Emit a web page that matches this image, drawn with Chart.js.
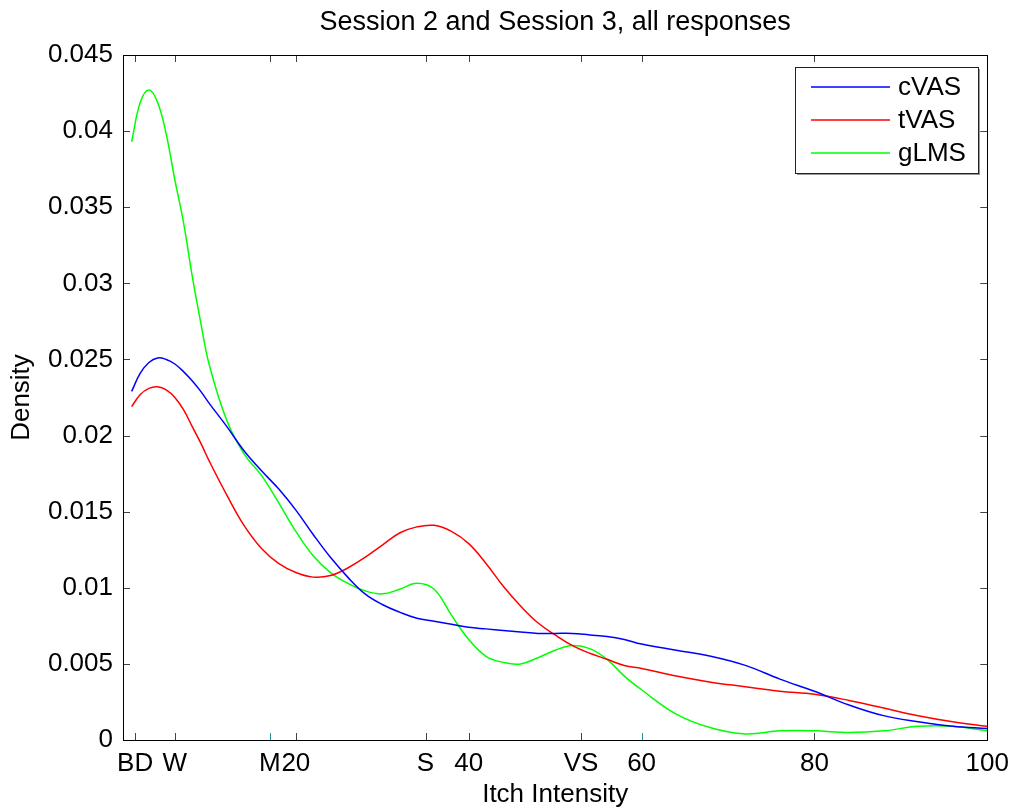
<!DOCTYPE html>
<html>
<head>
<meta charset="utf-8">
<script src="https://cdn.jsdelivr.net/npm/chart.js@4.4.0/dist/chart.umd.min.js"></script>
<style>
  html, body { margin: 0; padding: 0; background: #fff; }
  #wrap { width: 1017px; height: 809px; }
</style>
</head>
<body>
<div id="wrap"><canvas id="kde"></canvas></div>
<script>
// itch intensity grid (0-100) the densities were read at
const xs = [1, 2, 3, 4, 5, 6, 7, 8, 9, 10, 12, 14, 16, 18, 20, 22, 24, 26, 28, 30,
  32, 34, 36, 38, 40, 42, 44, 46, 48, 50, 52, 54, 56, 58, 60, 64, 68, 72, 76, 80,
  84, 88, 92, 96, 100];

const cVAS = [0.0229, 0.0241, 0.0248, 0.0251, 0.0250, 0.0247, 0.0242, 0.0236, 0.0229, 0.0221,
  0.0206, 0.0190, 0.0177, 0.0165, 0.0151, 0.0135, 0.0120, 0.0107, 0.0096, 0.0089,
  0.0084, 0.0080, 0.0078, 0.0076, 0.0074, 0.0073, 0.0072, 0.0071, 0.0070, 0.0070,
  0.0070, 0.0069, 0.0068, 0.0066, 0.0063, 0.0059, 0.0055, 0.0049, 0.0040, 0.0032,
  0.0023, 0.0016, 0.0012, 0.0009, 0.00075];

const tVAS = [0.0219, 0.0227, 0.0231, 0.0232, 0.0230, 0.0225, 0.0217, 0.0206, 0.0195, 0.0183,
  0.0161, 0.0141, 0.0126, 0.0116, 0.0110, 0.0107, 0.0108, 0.0113, 0.0120, 0.0128,
  0.0136, 0.0140, 0.0141, 0.0137, 0.0129, 0.0116, 0.0101, 0.0088, 0.0077, 0.0069,
  0.0062, 0.0057, 0.0053, 0.0049, 0.0047, 0.0042, 0.0038, 0.0035, 0.0032, 0.0030,
  0.0026, 0.0021, 0.0016, 0.0012, 0.0009];

const gLMS = [0.0393, 0.0419, 0.0427, 0.0419, 0.0398, 0.0368, 0.0340, 0.0305, 0.0274, 0.0246,
  0.0210, 0.0188, 0.0174, 0.0156, 0.0137, 0.0121, 0.0110, 0.0103, 0.0098, 0.0096,
  0.0099, 0.0103, 0.0099, 0.0082, 0.0066, 0.0055, 0.0051, 0.0050, 0.0054, 0.0059,
  0.0062, 0.0060, 0.0053, 0.0042, 0.0033, 0.0017, 0.0008, 0.0004, 0.0006, 0.0006,
  0.0005, 0.0006, 0.0009, 0.0009, 0.0006];

// x axis ticks: gLMS anchors mixed with numbers
const xTickVals = [1.4, 6, 17, 20, 35, 40, 53, 60, 80, 100];
const xTickLabels = ['BD', 'W', 'M', '20', 'S', '40', 'VS', '60', '80', '100'];
const tealTicks = ['M', '60'];

const chartTitle = 'Session 2 and Session 3, all responses';
const FONT = 'Liberation Sans, Arial, Helvetica, sans-serif';

const toPoints = arr => xs.map((x, i) => ({ x: x, y: arr[i] }));

const matlabFrame = {
  id: 'matlabFrame',
  afterDraw(chart) {
    const ctx = chart.ctx;
    const { left, right, top, bottom } = chart.chartArea;
    const xs_ = chart.scales.x;
    const ys_ = chart.scales.y;
    const len = 7;
    ctx.save();
    ctx.lineWidth = 1;

    // title centred over the axes, like matlab does it
    ctx.fillStyle = '#000';
    ctx.font = '27px ' + FONT;
    ctx.textAlign = 'center';
    ctx.textBaseline = 'middle';
    ctx.fillText(chartTitle, (left + right) / 2, 23);
    ctx.textAlign = 'left';

    // inward tick marks on all four sides
    xs_.ticks.forEach(t => {
      const px = Math.round(xs_.getPixelForValue(t.value)) + 0.5;
      const lab = xTickLabels[xTickVals.indexOf(t.value)];
      ctx.strokeStyle = tealTicks.includes(lab) ? '#1b9aa0' : '#444';
      ctx.beginPath();
      ctx.moveTo(px, bottom);
      ctx.lineTo(px, bottom - len);
      ctx.stroke();
      ctx.strokeStyle = '#444';
      ctx.beginPath();
      ctx.moveTo(px, top);
      ctx.lineTo(px, top + len);
      ctx.stroke();
    });
    ys_.ticks.forEach(t => {
      const py = Math.round(ys_.getPixelForValue(t.value)) + 0.5;
      ctx.strokeStyle = '#444';
      ctx.beginPath();
      ctx.moveTo(left, py);
      ctx.lineTo(left + len, py);
      ctx.moveTo(right, py);
      ctx.lineTo(right - len, py);
      ctx.stroke();
    });

    // box
    ctx.strokeStyle = '#000';
    ctx.strokeRect(Math.round(left) + 0.5, Math.round(top) + 0.5,
      Math.round(right - left), Math.round(bottom - top));

    // legend box in the upper right corner
    const lx = 795, ly = 67, lw = 183, lh = 106;
    ctx.fillStyle = '#999';
    ctx.fillRect(lx + 2, ly + 2, lw, lh);
    ctx.fillStyle = '#fff';
    ctx.fillRect(lx, ly, lw, lh);
    ctx.strokeStyle = '#222';
    ctx.strokeRect(lx + 0.5, ly + 0.5, lw, lh);
    ctx.font = '26px ' + FONT;
    ctx.textBaseline = 'middle';
    chart.data.datasets.forEach((ds, i) => {
      const y = ly + 20 + i * 33;
      ctx.strokeStyle = ds.borderColor;
      ctx.lineWidth = 1.5;
      ctx.beginPath();
      ctx.moveTo(lx + 16, y);
      ctx.lineTo(lx + 95, y);
      ctx.stroke();
      ctx.fillStyle = '#000';
      ctx.fillText(ds.label, lx + 103, y + 1);
    });
    ctx.restore();
  }
};

new Chart(document.getElementById('kde'), {
  type: 'line',
  data: {
    datasets: [
      { label: 'cVAS', data: toPoints(cVAS), borderColor: '#0000ff' },
      { label: 'tVAS', data: toPoints(tVAS), borderColor: '#ff0000' },
      { label: 'gLMS', data: toPoints(gLMS), borderColor: '#00ff00' }
    ]
  },
  options: {
    responsive: true,
    maintainAspectRatio: false,
    animation: false,
    layout: { padding: { left: 0, right: 26, top: 55, bottom: 0 } },
    elements: {
      point: { radius: 0 },
      line: { borderWidth: 1.5, tension: 0.4, fill: false }
    },
    plugins: {
      legend: { display: false },
      tooltip: { enabled: false },
      title: { display: false }
    },
    scales: {
      x: {
        type: 'linear',
        min: 0,
        max: 100,
        grid: { display: false, drawTicks: false },
        border: { display: false },
        afterBuildTicks: scale => {
          scale.ticks = xTickVals.map(v => ({ value: v }));
        },
        afterFit: scale => { scale.height = 69; },
        ticks: {
          autoSkip: false,
          maxRotation: 0,
          padding: 8,
          color: '#000',
          font: { family: FONT, size: 26 },
          callback: v => xTickLabels[xTickVals.indexOf(v)]
        },
        title: {
          display: true,
          text: 'Itch Intensity',
          color: '#000',
          font: { family: FONT, size: 26, lineHeight: 1 },
          padding: { top: 0, bottom: 1 }
        }
      },
      y: {
        min: 0,
        max: 0.045,
        grid: { display: false, drawTicks: false },
        border: { display: false },
        afterFit: scale => { scale.width = 123; },
        ticks: {
          stepSize: 0.005,
          padding: 10,
          color: '#000',
          font: { family: FONT, size: 26 },
          callback: v => String(+v.toFixed(3))
        },
        title: {
          display: true,
          text: 'Density',
          color: '#000',
          font: { family: FONT, size: 26, lineHeight: 1 },
          padding: { top: 9, bottom: 0 }
        }
      }
    }
  },
  plugins: [matlabFrame]
});
</script>
</body>
</html>
